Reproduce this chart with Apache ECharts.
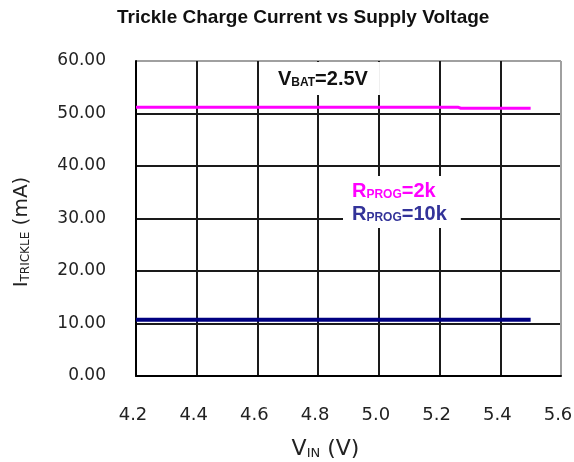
<!DOCTYPE html>
<html>
<head>
<meta charset="utf-8">
<script src="https://cdn.jsdelivr.net/npm/echarts@6/dist/echarts.min.js"></script>
<style>
  html, body { margin: 0; padding: 0; background: #fff; }
  #main { width: 574px; height: 462px; }
</style>
</head>
<body>
<div id="main"></div>
<script>
var chart = echarts.init(document.getElementById('main'));

// supply voltage (V)
var vin = [4.2, 4.4, 4.6, 4.8, 5.0, 5.2, 5.26, 5.27, 5.4, 5.5];
// trickle current (mA)
var rprog2k = [51.2, 51.2, 51.2, 51.2, 51.2, 51.2, 51.2, 51.0, 51.0, 51.0];
var rprog10k = [10.7, 10.7, 10.7, 10.7, 10.7, 10.7, 10.7, 10.7, 10.7, 10.7];

var xTicks = [4.2, 4.4, 4.6, 4.8, 5.0, 5.2, 5.4, 5.6];
var yTicks = [0, 10, 20, 30, 40, 50, 60];

function pairs(xs, ys) {
   return xs.map(function (x, i) { return [x, ys[i]]; });
}

// last split line (top / right border) is grey, the rest dark
function gridColors(ticks) {
   return ticks.map(function (t, i) { return i === ticks.length - 1 ? '#a0a0a0' : '#1a1a1a'; });
}

var option = {
   animation: false,
   backgroundColor: '#fff',
   title: {
      text: 'Trickle Charge Current vs Supply Voltage',
      left: 112,
      top: 3,
      textStyle: {
         fontFamily: 'Liberation Sans',
         fontSize: 19,
         fontWeight: 'bold',
         color: '#111'
      }
   },
   grid: {
      left: 136,
      right: 13,
      top: 61,
      bottom: 86,
      outerBoundsMode: 'none'
   },
   xAxis: {
      type: 'value',
      min: 4.2,
      max: 5.6,
      interval: 0.2,
      name: '{m|V}{s|IN}{m| (V)}',
      nameLocation: 'middle',
      nameGap: 58,
      nameTextStyle: {
         padding: [0, 46, 0, 0],
         rich: {
            m: { fontFamily: 'DejaVu Sans', fontSize: 22, color: '#222', verticalAlign: 'bottom', lineHeight: 26 },
            s: { fontFamily: 'DejaVu Sans', fontSize: 13, color: '#222', verticalAlign: 'bottom', lineHeight: 20 }
         }
      },
      axisLine: { show: true, lineStyle: { color: '#000', width: 2 } },
      axisTick: { show: false },
      axisLabel: {
         margin: 30,
         padding: [0, 6, 0, 0],
         fontFamily: 'DejaVu Sans',
         fontSize: 18,
         color: '#222',
         formatter: function (v) { return v.toFixed(1); }
      },
      splitLine: {
         show: true,
         lineStyle: { color: gridColors(xTicks), width: 2 }
      }
   },
   yAxis: {
      type: 'value',
      min: 0,
      max: 60,
      interval: 10,
      name: '{m|I}{s|TRICKLE}{m| (mA)}',
      nameLocation: 'middle',
      nameGap: 104,
      nameRotate: 90,
      nameTextStyle: {
         padding: [0, 27, 0, 0],
         rich: {
            m: { fontFamily: 'DejaVu Sans', fontSize: 20, color: '#222', verticalAlign: 'bottom', lineHeight: 24 },
            s: { fontFamily: 'DejaVu Sans', fontSize: 12, color: '#222', verticalAlign: 'bottom', lineHeight: 19 }
         }
      },
      axisLine: { show: true, lineStyle: { color: '#000', width: 2 } },
      axisTick: { show: false },
      axisLabel: {
         margin: 30,
         fontFamily: 'DejaVu Sans',
         fontSize: 17,
         color: '#222',
         formatter: function (v) { return v.toFixed(2); }
      },
      splitLine: {
         show: true,
         lineStyle: { color: gridColors(yTicks), width: 2 }
      }
   },
   graphic: [
      {
         type: 'text',
         left: 268,
         top: 62,
         z: 10,
         style: {
            text: '{b|V}{s|BAT}{b|=2.5V}',
            backgroundColor: '#fff',
            padding: [5, 12, 6, 10],
            rich: {
               b: { fontFamily: 'Liberation Sans', fontWeight: 'bold', fontSize: 20, fill: '#111', verticalAlign: 'bottom', lineHeight: 22 },
               s: { fontFamily: 'Liberation Sans', fontWeight: 'bold', fontSize: 12, fill: '#111', verticalAlign: 'bottom', lineHeight: 17 }
            }
         }
      },
      {
         type: 'text',
         left: 343,
         top: 176,
         z: 10,
         style: {
            text: '{p|R}{ps|PROG}{p|=2k}\n{q|R}{qs|PROG}{q|=10k}',
            backgroundColor: '#fff',
            padding: [2, 14, 4, 9],
            rich: {
               p: { fontFamily: 'Liberation Sans', fontWeight: 'bold', fontSize: 20, fill: '#ff00ff', verticalAlign: 'bottom', lineHeight: 23 },
               ps: { fontFamily: 'Liberation Sans', fontWeight: 'bold', fontSize: 12, fill: '#ff00ff', verticalAlign: 'bottom', lineHeight: 18 },
               q: { fontFamily: 'Liberation Sans', fontWeight: 'bold', fontSize: 20, fill: '#333399', verticalAlign: 'bottom', lineHeight: 23 },
               qs: { fontFamily: 'Liberation Sans', fontWeight: 'bold', fontSize: 12, fill: '#333399', verticalAlign: 'bottom', lineHeight: 18 }
            }
         }
      }
   ],
   series: [
      {
         name: 'RPROG=2k',
         type: 'line',
         symbol: 'none',
         z: 3,
         lineStyle: { color: '#ff00ff', width: 3 },
         data: pairs(vin, rprog2k)
      },
      {
         name: 'RPROG=10k',
         type: 'line',
         symbol: 'none',
         z: 3,
         lineStyle: { color: '#000080', width: 4 },
         data: pairs(vin, rprog10k)
      }
   ]
};
chart.setOption(option);
</script>
</body>
</html>
